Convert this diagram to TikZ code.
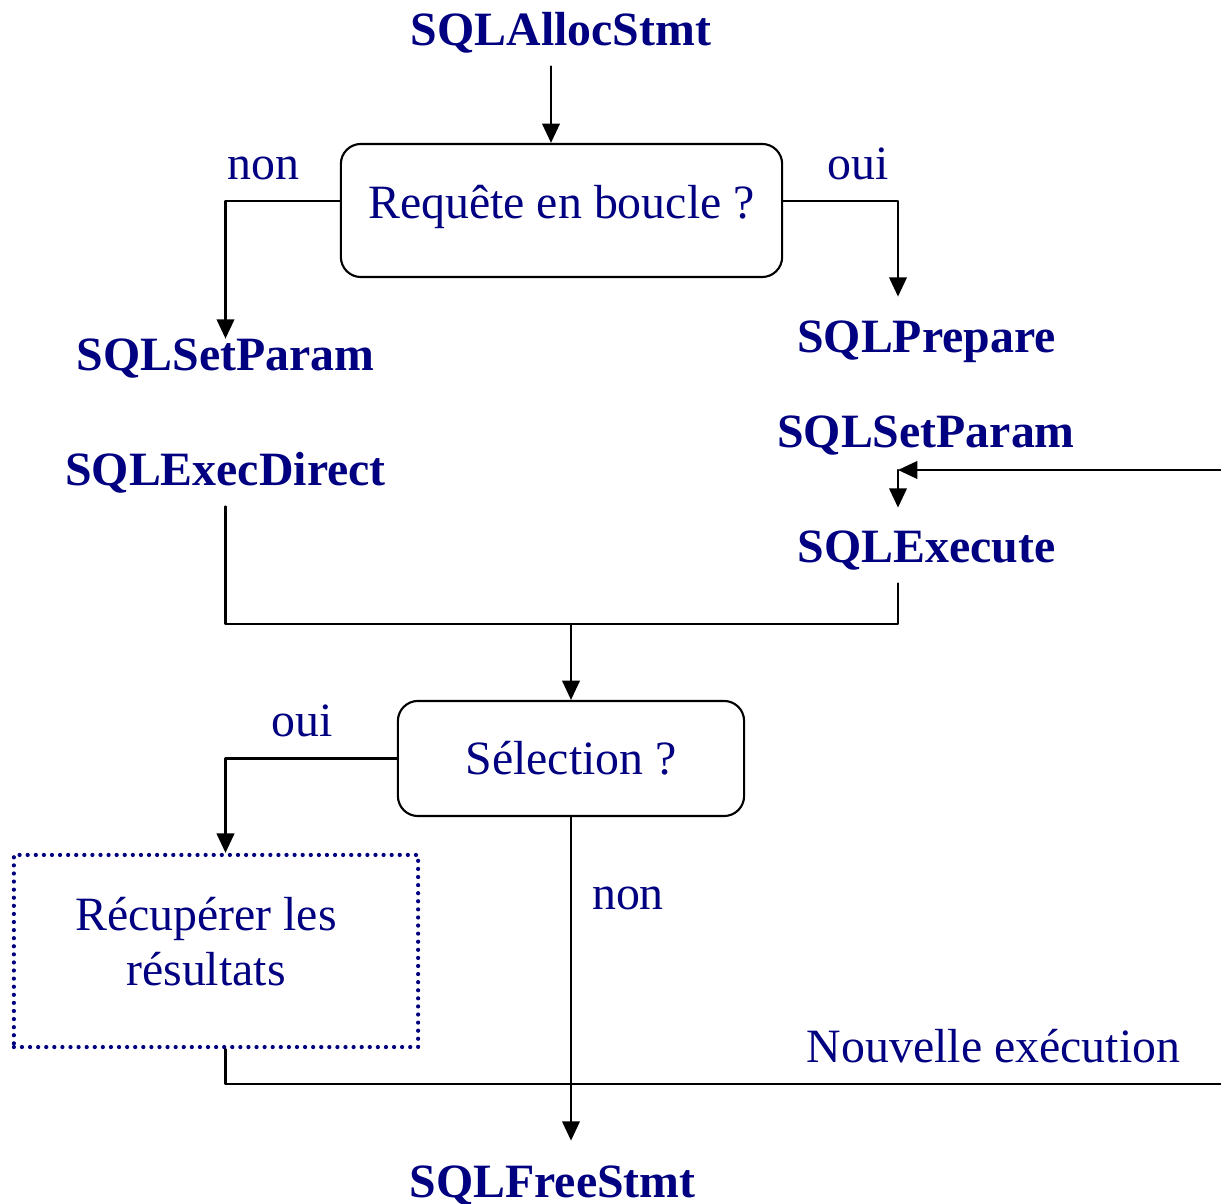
\documentclass[tikz,border=0pt]{standalone}
\usepackage{fontspec}
\setmainfont{Liberation Serif}
\usetikzlibrary{arrows.meta}
\definecolor{navy}{RGB}{0,0,128}

\begin{document}
\begin{tikzpicture}[
  x=0.01cm,
  y=-0.01cm,
  line cap=round,
  line join=round,
  every node/.style={text=navy, inner sep=0pt,
    font=\fontsize{13.6}{15.6}\selectfont},
  call/.style={anchor=base, font=\fontsize{13.6}{15.6}\selectfont\bfseries},
  note/.style={anchor=base},
  test/.style={draw=black, line width=0.6pt, rounded corners=0.2cm},
  fetchbox/.style={draw=navy, line width=1.2pt, line cap=round,
    dash pattern=on 0pt off 2.3pt},
  link/.style={line width=0.6pt},
  flow/.style={link, -{Triangle[width=5pt,length=5.5pt]}}
]
  \useasboundingbox (0,0) rectangle (1221,1204);

  \coordinate (colA) at (551,0);
  \coordinate (colR) at (898,0);
  \coordinate (merge) at (571,624);
  \coordinate (back) at (1221,470);
  \coordinate (knee) at (898,470);
  \coordinate (out) at (1221,1084);

  % Appels
  \node[call] (alloc) at (561,46) {SQLAllocStmt};
  \node[call] (setL) at (225.5,371) {SQLSetParam};
  \node[call] (prep) at (926.5,353) {SQLPrepare};
  \node[call] (setR) at (926,448) {SQLSetParam};
  \node[call] (direct) at (225.5,486) {SQLExecDirect};
  \node[call] (exec) at (926.5,563) {SQLExecute};
  \node[call] (free) at (552.5,1197) {SQLFreeStmt};

  % Tests
  \node[test, minimum width=4.41cm, minimum height=1.33cm, text depth=0.18cm]
    (loop) at (561.5,210.5) {Requête en boucle ?};
  \node[test, minimum width=3.46cm, minimum height=1.15cm] (select)
    at (571,758.5) {Sélection ?};
  \node[fetchbox, minimum width=4.04cm, minimum height=1.92cm] (fetch)
    at (216,951) {};
  \node[align=center] (fetchtxt) at (206,942) {Récupérer les\\résultats};

  % Etiquettes
  \node[note] (nonA) at (263.5,180) {non};
  \node[note] (ouiA) at (858.5,180) {oui};
  \node[note] (ouiB) at (302,737) {oui};
  \node[note] (nonB) at (628,910) {non};
  \node[note] (again) at (993.5,1063) {Nouvelle exécution};

  % Liaisons
  \draw[flow, shorten <=0.12cm] (alloc.south -| colA) -- (loop.north -| colA);
  \draw[flow] (loop.west |- 0,201) -| (setL.north);
  \draw[flow, shorten >=0.24cm] (loop.east |- 0,201) -| (prep.north -| colR);
  \draw[flow] (back) -- (knee);
  \draw[flow, shorten >=0.23cm] (knee) -- (exec.north -| knee);
  \draw[link, shorten <=0.12cm, shorten >=0.12cm]
    (direct.south) |- (merge) -| (exec.south -| colR);
  \draw[flow] (merge) -- (select.north);
  \draw[flow] (select.west) -| (fetch.north -| direct.south);
  \draw[flow, shorten >=0.24cm] (select.south) -- (select.south |- free.north);
  \draw[link] (fetch.south -| direct.south) |- (out);
\end{tikzpicture}
\end{document}
